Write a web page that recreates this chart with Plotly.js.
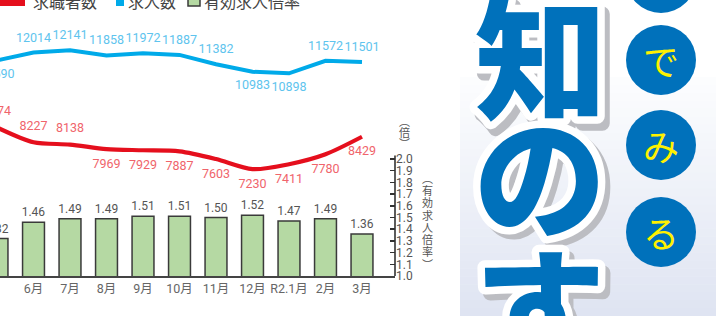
<!DOCTYPE html>
<html><head><meta charset="utf-8">
<script src="https://cdn.plot.ly/plotly-3.0.1.min.js"></script>
<style>
body{margin:0;background:#fff;overflow:hidden;}
#chart{width:716px;height:316px;}
.annotation[data-index="0"] text,.annotation[data-index="1"] text,.annotation[data-index="2"] text{stroke:#bcbdc2;stroke-width:15px;stroke-linejoin:round;paint-order:stroke;}
.annotation[data-index="3"] text,.annotation[data-index="4"] text,.annotation[data-index="5"] text{stroke:#ffffff;stroke-width:15px;stroke-linejoin:round;paint-order:stroke;}
</style></head>
<body><div id="chart"></div>
<script>
// ---- data ----
const months = ['5月','6月','7月','8月','9月','10月','11月','12月','R2.1月','2月','3月'];
const seekers = [8774, 8227, 8138, 7969, 7929, 7887, 7603, 7230, 7411, 7780, 8429];
const offers  = [11590, 12014, 12141, 11858, 11972, 11887, 11382, 10983, 10898, 11572, 11501];
const ratio   = [1.32, 1.46, 1.49, 1.49, 1.51, 1.51, 1.50, 1.52, 1.47, 1.49, 1.36];
const ratioTicks = [1.0,1.1,1.2,1.3,1.4,1.5,1.6,1.7,1.8,1.9,2.0];
const seekerPos = ['top center','top center','top center','bottom center','bottom center','bottom center','bottom center','bottom center','bottom center','bottom center','bottom center'];
const offerPos  = ['bottom center','top center','top center','top center','top center','top center','top center','bottom center','bottom center','top center','top center'];
const legendLabels = ['求職者数','求人数','有効求人倍率'];
const unitLabel = ['︵','倍','︶'];
const axisTitle = ['︵','有','効','求','人','倍','率','︶'];
const bigChars = ['知','の','す'];
const circleChars = ['','で','み','る'];

// ---- geometry helpers (plot area: 395 x 276 px at top-left) ----
const PW = 395, PH = 276;
const px = v => v / PW;
const py = v => (PH - v) / PH;

const NUM = 'Roboto, "Noto Sans CJK JP", sans-serif';
const JP = '"Noto Sans CJK JP", sans-serif';

const traces = [
  {type:'bar', x: months, y: ratio, yaxis:'y', width:0.6,
   marker:{color:'#b5d9a3', line:{color:'#3a3a3a', width:1.5}},
   text: ratio.map(v=>v.toFixed(2)), textposition:'outside', constraintext:'none', cliponaxis:true,
   textfont:{family:NUM, size:12, color:'#555'}, hoverinfo:'none'},
  {type:'scatter', mode:'lines+markers+text', x: months, y: offers, yaxis:'y2',
   line:{color:'#00aae9', width:4}, marker:{size:11, opacity:0}, text: offers.map(String), textposition: offerPos,
   textfont:{family:NUM, size:12.5, color:'#5ec4ee'}, cliponaxis:true, hoverinfo:'none'},
  {type:'scatter', mode:'lines+markers+text', x: months, y: seekers, yaxis:'y3',
   line:{color:'#e50f1d', width:4.2, shape:'spline', smoothing:0.8}, marker:{size:13, opacity:0},
   text: seekers.map(String), textposition: seekerPos,
   textfont:{family:NUM, size:12.5, color:'#f0646b'}, cliponaxis:true, hoverinfo:'none'}
];

const annotations = [];
const bigPos = [[541,52],[540,170],[540,302]];
bigChars.forEach((c,i)=>annotations.push({xref:'paper',yref:'paper',x:px(bigPos[i][0]+5),y:py(bigPos[i][1]+6),
  text:c,showarrow:false,xanchor:'center',yanchor:'middle',font:{family:JP,size:132,weight:900,color:'#bcbdc2'}}));
bigChars.forEach((c,i)=>annotations.push({xref:'paper',yref:'paper',x:px(bigPos[i][0]),y:py(bigPos[i][1]),
  text:c,showarrow:false,xanchor:'center',yanchor:'middle',font:{family:JP,size:132,weight:900,color:'#0071bb'}}));
const circY = [-22,60,145,232];
circleChars.forEach((c,i)=>{ if(c) annotations.push({xref:'paper',yref:'paper',x:px(661),y:py(circY[i]),
  text:c,showarrow:false,xanchor:'center',yanchor:'middle',font:{family:JP,size:36,color:'#fff100'}}); });
const legX = [31,126,202];
legendLabels.forEach((t,i)=>annotations.push({xref:'paper',yref:'paper',x:px(legX[i]),y:py(1),
  text:t,showarrow:false,xanchor:'left',yanchor:'middle',font:{family:JP,size:16,color:'#444'}}));
unitLabel.forEach((c,i)=>annotations.push({xref:'paper',yref:'paper',x:px(405),y:py(121+i*11),
  text:c,showarrow:false,xanchor:'center',yanchor:'middle',font:{family:JP,size:11,color:'#555'}}));
axisTitle.forEach((c,i)=>annotations.push({xref:'paper',yref:'paper',x:px(427),y:py(177.7+i*12.3),
  text:c,showarrow:false,xanchor:'center',yanchor:'middle',font:{family:JP,size:11,color:'#555'}}));

const shapes = [];
const N = 30, gTop = 77, gBot = 316;
for (let k=0;k<N;k++){
  const t = k/(N-1);
  const c0=[252,253,254], c1=[223,228,242];
  const col = 'rgb('+c0.map((a,j)=>Math.round(a+(c1[j]-a)*t)).join(',')+')';
  const y0 = gTop + (gBot-gTop)*k/N, y1 = gTop + (gBot-gTop)*(k+1)/N + 0.5;
  shapes.push({type:'rect',xref:'paper',yref:'paper',layer:'below',x0:px(460),x1:px(720),y0:py(y1),y1:py(y0),
    fillcolor:col,line:{width:0}});
}
circY.forEach(cy=>shapes.push({type:'circle',xref:'paper',yref:'paper',x0:px(626),x1:px(696),y0:py(cy+35),y1:py(cy-35),
  fillcolor:'#0071bb',line:{width:0}}));
shapes.push({type:'rect',xref:'paper',yref:'paper',x0:px(-2),x1:px(25),y0:py(6),y1:py(-6),fillcolor:'#e50f1d',line:{width:0}});
shapes.push({type:'rect',xref:'paper',yref:'paper',x0:px(116),x1:px(124),y0:py(6),y1:py(-6),fillcolor:'#00aae9',line:{width:0}});
shapes.push({type:'rect',xref:'paper',yref:'paper',x0:px(188),x1:px(200),y0:py(6),y1:py(-6),fillcolor:'#b5d9a3',line:{color:'#3a3a3a',width:1.5}});
shapes.push({type:'line',xref:'paper',yref:'y',x0:1,x1:1,y0:1.0,y1:2.03,line:{color:'#333',width:1.6}});

const layout = {
  width:716, height:316, margin:{l:0,r:716-PW,t:0,b:316-PH},
  paper_bgcolor:'#fff', plot_bgcolor:'rgba(0,0,0,0)', showlegend:false,
  xaxis:{type:'category', range:[0.082,10.904], showline:true, linecolor:'#444', linewidth:2, ticks:'', tickangle:0,
    showgrid:false, zeroline:false, tickfont:{family:NUM, size:12.5, color:'#666'}, fixedrange:true},
  yaxis:{side:'right', anchor:'x', range:[1, 1+PH/117], tickvals:ratioTicks, ticktext:ratioTicks.map(v=>v.toFixed(1)),
    ticks:'inside', ticklen:5, tickwidth:1.5, tickcolor:'#333', showgrid:false, zeroline:false, showline:false,
    tickfont:{family:NUM, size:12, color:'#555'}, fixedrange:true},
  yaxis2:{overlaying:'y', range:[0,14840], visible:false, fixedrange:true},
  yaxis3:{overlaying:'y', range:[3268,13497], visible:false, fixedrange:true},
  annotations, shapes
};
Plotly.newPlot('chart', traces, layout, {displayModeBar:false, staticPlot:true});
</script></body></html>
